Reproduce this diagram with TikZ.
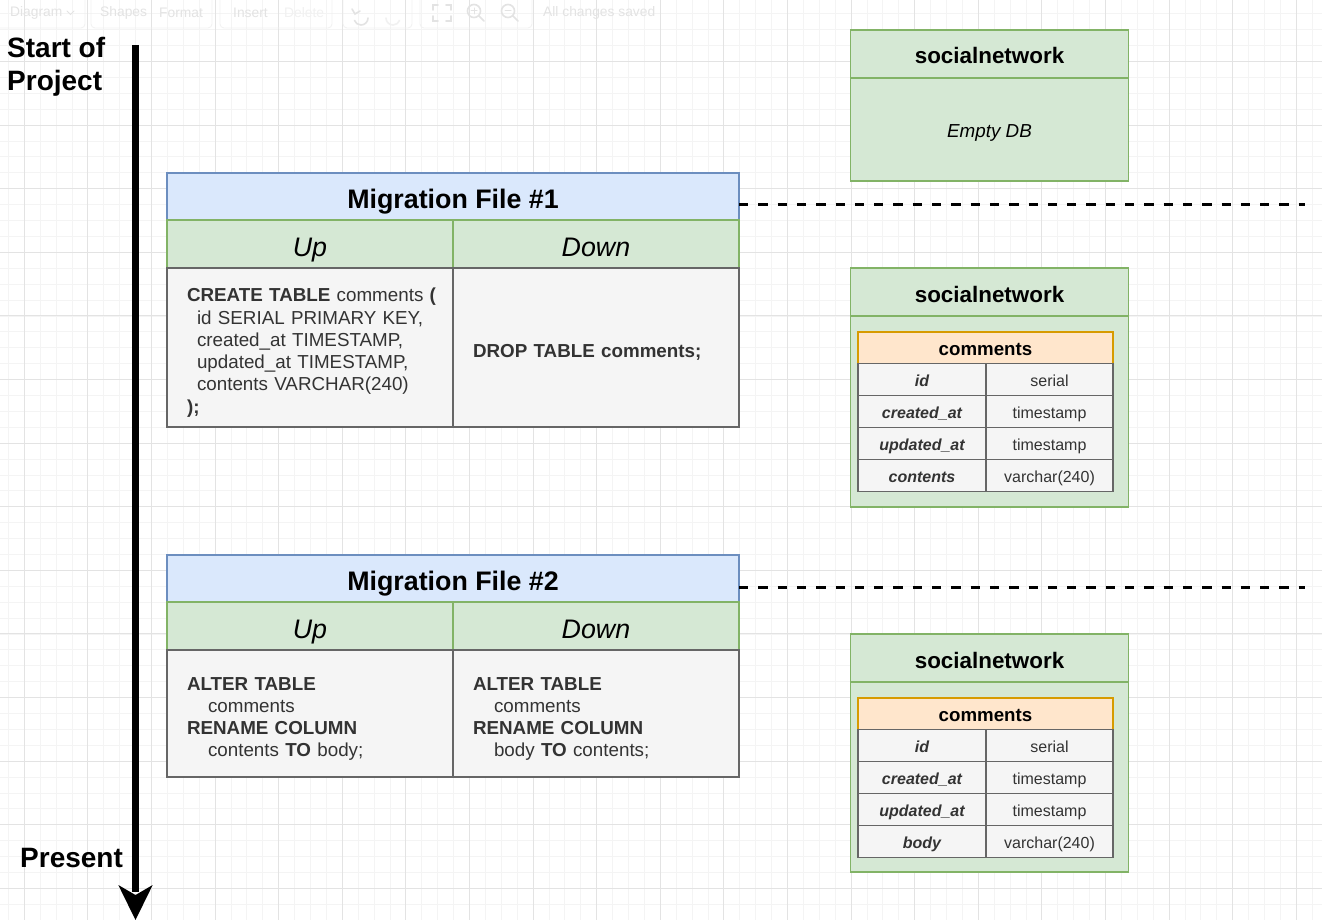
\documentclass[tikz,border=0pt]{standalone}
\usepackage{fontspec}
\setmainfont{Liberation Sans}
\definecolor{bluefill}{HTML}{DAE8FC}
\definecolor{bluedraw}{HTML}{6C8EBF}
\definecolor{greenfill}{HTML}{D5E8D4}
\definecolor{greendraw}{HTML}{82B366}
\definecolor{grayfill}{HTML}{F5F5F5}
\definecolor{graydraw}{HTML}{666666}
\definecolor{orangefill}{HTML}{FFE6CC}
\definecolor{orangedraw}{HTML}{D79B00}
\definecolor{txt}{HTML}{333333}
\definecolor{gmajor}{HTML}{E3E3E3}
\definecolor{gminor}{HTML}{F4F4F4}
\definecolor{tbtext}{HTML}{E3E3E3}
\definecolor{tbfaint}{HTML}{F1F1F1}
\newcommand{\fsz}[2]{\fontsize{#1}{#2}\selectfont}
\newcommand{\firstup}{\rule{0pt}{23.8pt}}
\tikzset{
  box/.style={draw, line width=1.3pt, inner sep=0pt, outer sep=0pt, anchor=north west},
  mtitle/.style={box, fill=bluefill, draw=bluedraw, minimum width=572pt, minimum height=47pt, font=\fsz{26.8}{32}\bfseries, text height=23.6pt, text depth=0pt},
  mhead/.style={box, fill=greenfill, draw=greendraw, minimum width=286pt, minimum height=48pt, font=\fsz{26.8}{32}\itshape, text height=24pt, text depth=0pt},
  mbody/.style={box, fill=grayfill, draw=graydraw, text width=246pt, inner xsep=20pt, minimum width=286pt, align=left, text=txt, font=\fsz{18.8}{22.3}},
  dbtitle/.style={box, fill=greenfill, draw=greendraw, minimum width=278pt, minimum height=48pt, font=\fsz{22.4}{26}\bfseries, text height=20pt, text depth=0pt},
  dbbody/.style={box, fill=greenfill, draw=greendraw, minimum width=278pt},
  thead/.style={box, fill=orangefill, draw=orangedraw, minimum width=255pt, minimum height=31.5pt, font=\fsz{18.7}{22}\bfseries, text height=15pt, text depth=0pt},
  cellL/.style={box, fill=grayfill, draw=graydraw, minimum width=128pt, minimum height=32pt, font=\fsz{16}{19}\bfseries\itshape, text=txt, text height=14.5pt, text depth=0pt},
  cellR/.style={box, fill=grayfill, draw=graydraw, minimum width=127pt, minimum height=32pt, font=\fsz{16}{19}, text=txt, text height=14.5pt, text depth=0pt},
  dashline/.style={line width=3pt, dash pattern=on 9.3pt off 10pt},
  tblabel/.style={font=\fsz{13.8}{16}, text=tbtext, inner sep=0pt, anchor=west},
  tbicon/.style={draw=tbtext, line width=1.6pt, line cap=round},
  tbbox/.style={draw=tbfaint, line width=0.8pt, rounded corners=4pt},
  timelabel/.style={font=\fsz{28}{33}\bfseries, inner sep=0pt, align=left},
}
\begin{document}
\begin{tikzpicture}[x=1pt,y=-1pt]
\useasboundingbox (0,0) rectangle (1322,920);
\fill[white] (0,0) rectangle (1322,920);
% grid
\foreach \i in {0,...,82} \draw[gminor, line width=0.8pt] ({8.3+\i*15.9},0) -- ({8.3+\i*15.9},920);
\foreach \i in {0,...,57} \draw[gminor, line width=0.8pt] (0,{13.8+\i*15.9}) -- (1322,{13.8+\i*15.9});
\foreach \i in {0,...,20} \draw[gmajor, line width=1pt] ({24.2+\i*63.6},0) -- ({24.2+\i*63.6},920);
\foreach \i in {1,...,14} \draw[gmajor, line width=1pt] (0,{-2.1+\i*63.6}) -- (1322,{-2.1+\i*63.6});
% toolbar (faint)
\draw[tbbox] (-4,-4) rectangle (85,28);
\draw[tbbox] (91,-4) rectangle (212,28);
\draw[tbbox] (220,-4) rectangle (332,28);
\draw[tbbox] (343,-4) rectangle (412,28);
\draw[tbbox] (420,-4) rectangle (532,28);
\node[tblabel] (tbdiagram) at (10,13) {Diagram};
\draw[tbicon, line width=1pt] (67,11) -- (70.5,14.5) -- (74,11);
\node[tblabel] (tbshapes) at (100,13) {Shapes};
\node[tblabel] (tbformat) at (159,13) {Format};
\node[tblabel] (tbinsert) at (233,13) {Insert};
\node[tblabel, text=tbfaint] (tbdelete) at (284,13) {Delete};
\node[tblabel] (tbsaved) at (543,13) {All changes saved};
\draw[tbicon] (368,18) arc (0:160:7);
\draw[tbicon] (352,9) -- (355,14) -- (360,11);
\draw[tbicon, draw=tbfaint] (386,18) arc (180:20:7);
\draw[tbicon] (433,10) -- (433,5) -- (438,5);
\draw[tbicon] (446,5) -- (451,5) -- (451,10);
\draw[tbicon] (433,16) -- (433,21) -- (438,21);
\draw[tbicon] (446,21) -- (451,21) -- (451,16);
\draw[tbicon] (474,11) circle (6.5);
\draw[tbicon] (478.6,15.6) -- (484,21);
\draw[tbicon, line width=1pt] (471,11) -- (477,11) (474,8) -- (474,14);
\draw[tbicon] (508,11) circle (6.5);
\draw[tbicon] (512.6,15.6) -- (518,21);
\draw[tbicon, line width=1pt] (505,11) -- (511,11);
% timeline
\node[timelabel, anchor=north west] (startlbl) at (7,37) {Start of\\Project};
\node[timelabel, anchor=base west] (presentlbl) at (20,867) {Present};
\coordinate (tstart) at (135.5,45);
\coordinate (tshaft) at (135.5,892);
\coordinate (ttip) at (135.5,920);
\draw[line width=7.6pt] (tstart) -- (tshaft);
\fill (118.3,885) -- (ttip) -- (152.7,885) -- (135.5,895) -- cycle;
% Migration File #1
\node[mtitle] (m1title) at (167,173) {Migration File \#1};
\node[mhead] (m1up) at (167,220) {Up};
\node[mhead] (m1down) at (453,220) {Down};
\node[mbody, minimum height=159pt] (m1upbody) at (167,268) {\mbox{\firstup\textbf{CREATE TABLE} comments \textbf{(}}\\
\hspace*{10pt}id SERIAL PRIMARY KEY,\\
\hspace*{10pt}created\_at TIMESTAMP,\\
\hspace*{10pt}updated\_at TIMESTAMP,\\
\hspace*{10pt}contents VARCHAR(240)\\
\textbf{);}};
\node[mbody, minimum height=159pt] (m1downbody) at (453,268) {\firstup\textbf{DROP TABLE comments;}};
% Migration File #2
\node[mtitle] (m2title) at (167,555) {Migration File \#2};
\node[mhead] (m2up) at (167,602) {Up};
\node[mhead] (m2down) at (453,602) {Down};
\node[mbody, minimum height=127pt] (m2upbody) at (167,650) {\firstup\textbf{ALTER TABLE}\\
\hspace*{21pt}comments\\
\textbf{RENAME COLUMN}\\
\hspace*{21pt}contents \textbf{TO} body;};
\node[mbody, minimum height=127pt] (m2downbody) at (453,650) {\firstup\textbf{ALTER TABLE}\\
\hspace*{21pt}comments\\
\textbf{RENAME COLUMN}\\
\hspace*{21pt}body \textbf{TO} contents;};
% dashed separators
\coordinate (d1end) at (1305,205);
\coordinate (d2end) at (1305,587);
\draw[dashline] (m1title.east |- d1end) -- (d1end);
\draw[dashline] (m2title.east |- d2end) -- (d2end);
% socialnetwork: empty
\node[dbtitle] (db0title) at (850.5,30) {socialnetwork};
\node[dbbody, minimum height=103pt, font=\fsz{18.8}{22}\itshape, text height=17pt, text depth=0pt] (db0body) at (850.5,78) {Empty DB};
% socialnetwork after migration 1
\node[dbtitle] (db1title) at (850.5,268) {socialnetwork};
\node[dbbody, minimum height=191pt] (db1body) at (850.5,316) {};
\node[thead] (t1head) at (858,332) {comments};
\foreach \i/\f/\t in {0/id/serial,1/created\_at/timestamp,2/updated\_at/timestamp,3/contents/varchar(240)} {
  \node[cellL] (t1l\i) at (858,{363.5+32*\i}) {\f};
  \node[cellR] (t1r\i) at (986,{363.5+32*\i}) {\t};
}
% socialnetwork after migration 2
\node[dbtitle] (db2title) at (850.5,634) {socialnetwork};
\node[dbbody, minimum height=190pt] (db2body) at (850.5,682) {};
\node[thead] (t2head) at (858,698) {comments};
\foreach \i/\f/\t in {0/id/serial,1/created\_at/timestamp,2/updated\_at/timestamp,3/body/varchar(240)} {
  \node[cellL] (t2l\i) at (858,{729.5+32*\i}) {\f};
  \node[cellR] (t2r\i) at (986,{729.5+32*\i}) {\t};
}
\end{tikzpicture}
\end{document}
